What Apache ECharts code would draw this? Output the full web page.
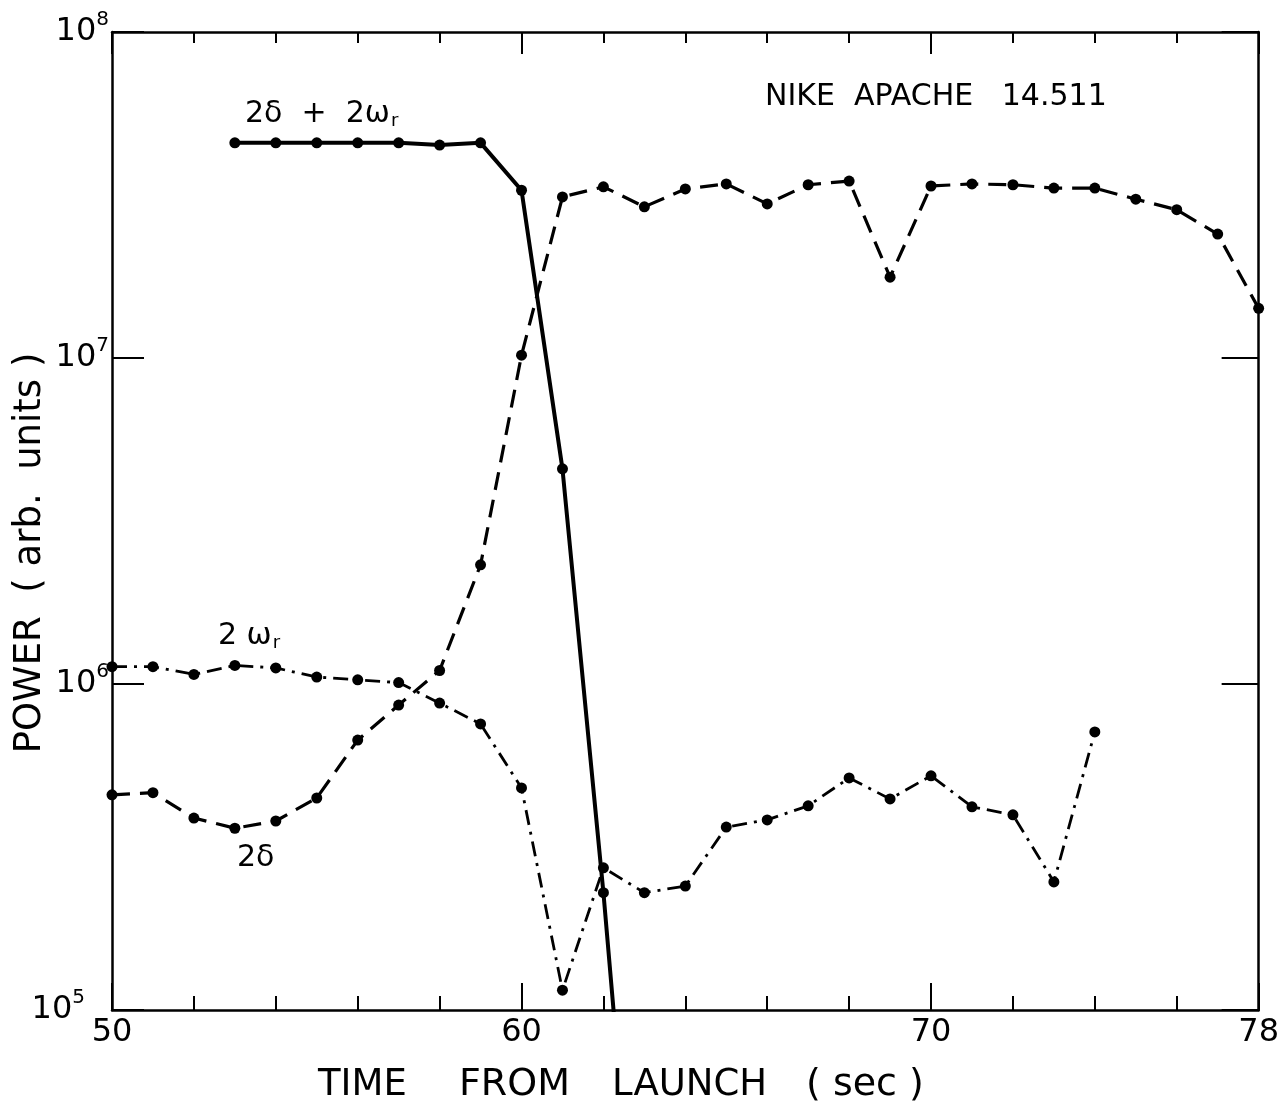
<!DOCTYPE html>
<html>
<head>
<meta charset="utf-8">
<title>NIKE APACHE 14.511</title>
<script src="https://cdn.jsdelivr.net/npm/echarts@6/dist/echarts.min.js"></script>
<style>
    html, body { margin: 0; padding: 0; background: #fff; }
    #chart { width: 1282px; height: 1115px; }
</style>
</head>
<body>
<div id="chart"></div>
<script>
// 2δ + 2ωr (solid); last point lies below the axis and is clipped
var sumTime = [53, 54, 55, 56, 57, 58, 59, 60, 61, 62, 63];
var sumPower = [4.57e7, 4.57e7, 4.57e7, 4.57e7, 4.57e7, 4.5e7, 4.57e7, 3.27e7, 4.57e6, 2.29e5, 8e3];

// 2δ (dashed)
var deltaTime = [50, 51, 52, 53, 54, 55, 56, 57, 58, 59, 60, 61, 62, 63, 64,
    65, 66, 67, 68, 69, 70, 71, 72, 73, 74, 75, 76, 77, 78];
var deltaPower = [4.57e5, 4.64e5, 3.88e5, 3.61e5, 3.8e5, 4.47e5, 6.73e5, 8.62e5, 1.1e6, 2.32e6,
    1.02e7, 3.12e7, 3.35e7, 2.91e7, 3.3e7, 3.42e7, 2.97e7, 3.4e7, 3.49e7, 1.77e7,
    3.37e7, 3.42e7, 3.4e7, 3.32e7, 3.32e7, 3.07e7, 2.85e7, 2.4e7, 1.42e7];

// 2ωr (dash-dot)
var omegaTime = [50, 51, 52, 53, 54, 55, 56, 57, 58, 59, 60, 61, 62,
    63, 64, 65, 66, 67, 68, 69, 70, 71, 72, 73, 74];
var omegaPower = [1.13e6, 1.13e6, 1.07e6, 1.14e6, 1.12e6, 1.05e6, 1.03e6, 1.01e6, 8.74e5, 7.54e5,
    4.8e5, 1.15e5, 2.73e5, 2.29e5, 2.4e5, 3.64e5, 3.83e5, 4.23e5, 5.15e5, 4.44e5,
    5.23e5, 4.2e5, 3.97e5, 2.47e5, 7.13e5];

var xLabels = [50, 60, 70, 78];
var yLabels = [1e5, 1e6, 1e7, 1e8];

var FONT = 'DejaVu Sans';

function pairs(xs, ys) {
    var out = [];
    for (var i = 0; i < xs.length; i++) {
        out.push([xs[i], ys[i]]);
    }
    return out;
}

function xAxisOf(pos, step, tickLen, showLine, showLabel) {
    return {
        type: 'value',
        position: pos,
        min: 50,
        max: 78,
        interval: step,
        axisLine: { show: showLine, lineStyle: { color: '#000', width: 2.5 } },
        axisTick: { show: true, inside: true, length: tickLen, lineStyle: { color: '#000', width: 2 } },
        axisLabel: {
            show: showLabel,
            margin: 7,
            color: '#000',
            fontSize: 32,
            fontFamily: FONT,
            formatter: function (v) {
                return xLabels.indexOf(v) >= 0 ? String(v) : '';
            }
        },
        splitLine: { show: false }
    };
}

function yAxisOf(pos, tickLen, showLabel) {
    return {
        type: 'log',
        logBase: 10,
        position: pos,
        min: 1e5,
        max: 1e8,
        axisLine: { show: true, lineStyle: { color: '#000', width: 2.5 } },
        axisTick: { show: true, inside: true, length: tickLen, lineStyle: { color: '#000', width: 2 } },
        minorTick: { show: false },
        axisLabel: {
            show: showLabel,
            margin: 3,
            formatter: function (v) {
                var e = Math.round(Math.log(v) / Math.LN10);
                if (yLabels.indexOf(Math.pow(10, e)) < 0) {
                    return '';
                }
                return e === 5 ? '{b|10}{e5|' + e + '}' : '{b|10}{e|' + e + '}';
            },
            rich: {
                b: { fontSize: 32, lineHeight: 44, fontFamily: FONT, color: '#000' },
                e: { fontSize: 20, lineHeight: 12, verticalAlign: 'top', fontFamily: FONT, color: '#000' },
                e5: { fontSize: 20, lineHeight: 12, verticalAlign: 'top', fontFamily: FONT, color: '#000', padding: [0, 24, 0, 0] }
            }
        },
        splitLine: { show: false }
    };
}

function lineSeries(name, data, type, width) {
    return {
        name: name,
        type: 'line',
        xAxisIndex: 0,
        yAxisIndex: 0,
        data: data,
        symbol: 'circle',
        symbolSize: 11,
        clip: true,
        animation: false,
        itemStyle: { color: '#000' },
        lineStyle: { color: '#000', width: width, type: type }
    };
}

function txt(x, y, text, size, extra) {
    var el = {
        type: 'text',
        x: x,
        y: y,
        style: {
            text: text,
            fontSize: size,
            fontFamily: FONT,
            fill: '#000',
            align: 'left',
            verticalAlign: 'middle',
            textAlign: 'left',
            textVerticalAlign: 'middle'
        }
    };
    if (extra) {
        for (var k in extra) {
            if (k === 'style') {
                for (var s in extra.style) el.style[s] = extra.style[s];
            } else {
                el[k] = extra[k];
            }
        }
    }
    return el;
}

var sub = { r: { fontSize: 18, fontFamily: FONT, fill: '#000', padding: [14, 0, 0, 1] } };

var chart = echarts.init(document.getElementById('chart'));
chart.setOption({
    backgroundColor: '#fff',
    animation: false,
    grid: { left: 112, right: 19, top: 32, bottom: 105, containLabel: false },
    xAxis: [
        xAxisOf('bottom', 2, 14, true, true),
        xAxisOf('top', 2, 11, true, false),
        xAxisOf('bottom', 10, 27, false, false),
        xAxisOf('top', 10, 22, false, false)
    ],
    yAxis: [
        yAxisOf('left', 32, true),
        yAxisOf('right', 37, false)
    ],
    series: [
        lineSeries('2δ', pairs(deltaTime, deltaPower), [18, 10], 3.2),
        lineSeries('2ωr', pairs(omegaTime, omegaPower), [15, 7, 3, 7], 2.8),
        lineSeries('2δ + 2ωr', pairs(sumTime, sumPower), 'solid', 4)
    ],
    graphic: [
        // x-axis title, one word at a time for the wide lettering
        txt(318, 1085, 'TIME', 37),
        txt(459, 1085, 'FROM', 38),
        txt(612, 1085, 'LAUNCH', 37),
        txt(806, 1085, '( sec )', 38),
        txt(30, 553, 'POWER  ( arb.  units )', 37, {
            rotation: Math.PI / 2,
            style: { align: 'center', textAlign: 'center' }
        }),
        txt(765, 97, 'NIKE  APACHE   14.511', 30),
        txt(245, 114, '2δ  +  2ω{r|r}', 30, { style: { rich: sub } }),
        txt(218, 636, '2 ω{r|r}', 30, { style: { rich: sub } }),
        txt(237, 858, '2δ', 30)
    ]
});
</script>
</body>
</html>
